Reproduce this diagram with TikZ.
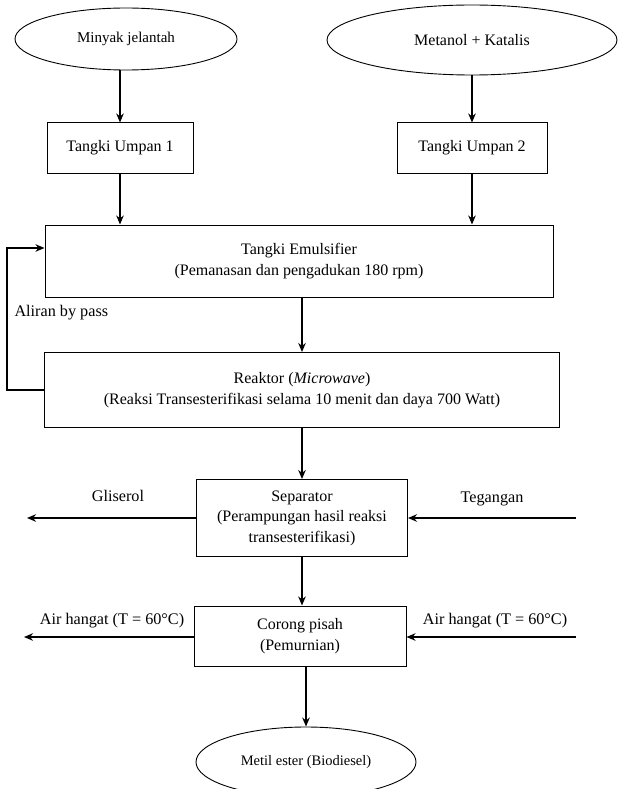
\documentclass[tikz,border=0pt]{standalone}
\usepackage{fontspec}
\setmainfont{Liberation Serif}
\usetikzlibrary{positioning, arrows.meta, calc, shapes.geometric}

\begin{document}
\begin{tikzpicture}[x=1pt, y=-1pt,
    box/.style={draw, line width=1pt, align=center, inner sep=0pt, font=\fontsize{16}{20.5}\selectfont},
    oval/.style={ellipse, draw, line width=0.9pt, inner sep=0pt, font=\fontsize{15}{17}\selectfont},
    flow/.style={line width=2pt, -{Stealth[length=9pt, width=7.5pt]}},
    lbl/.style={font=\fontsize{16.2}{18}\selectfont}]
    \useasboundingbox (0,0) rectangle (619,789);

    % Raw materials
    \node[oval, minimum width=222, minimum height=62] (oil) at (126,39) {Minyak jelantah};
    \node[oval, minimum width=290, minimum height=70, font=\fontsize{16}{17}\selectfont] (methanol) at (472,40) {Metanol + Katalis};

    % Feed tanks
    \node[box, minimum width=146, minimum height=50] (feed1) at (120,148) {Tangki Umpan 1};
    \node[box, minimum width=150, minimum height=50] (feed2) at (472,148) {Tangki Umpan 2};

    % Emulsifier and reactor
    \node[box, minimum width=508, minimum height=72] (emul) at (299,261) {Tangki Emulsifier\\(Pemanasan dan pengadukan 180 rpm)};
    \node[box, minimum width=515, minimum height=75] (reactor) at (302,390) {Reaktor (\textit{Microwave})\\(Reaksi Transesterifikasi selama 10 menit dan daya 700 Watt)};

    % Separation
    \node[box, minimum width=211, minimum height=77] (sep) at (302,518) {Separator\\(Perampungan hasil reaksi\\transesterifikasi)};
    \node[box, minimum width=212, minimum height=60] (funnel) at (300,636) {Corong pisah\\(Pemurnian)};

    % Product
    \node[oval, minimum width=220, minimum height=70, font=\fontsize{14.5}{17}\selectfont] (ester) at (306,762) {Metil ester (Biodiesel)};

    % Main flow
    \draw[flow] (oil.south -| feed1) -- (feed1);
    \draw[flow] (methanol.south -| feed2) -- (feed2);
    \draw[flow] (feed1) -- (feed1 |- emul.north);
    \draw[flow] (feed2) -- (feed2 |- emul.north);
    \draw[flow] (emul.south -| reactor) -- (reactor);
    \draw[flow] (reactor) -- (sep);
    \draw[flow] (sep) -- (sep |- funnel.north);
    \draw[flow] (funnel.south -| ester) -- (ester);

    % By pass line
    \coordinate (bypass) at (7,248);
    \draw[flow] (reactor.west) -- (reactor.west -| bypass) -- (bypass) -- (bypass -| emul.west);
    \node[lbl, anchor=west] (bylbl) at (11,313) {Aliran by pass};

    % Side streams of the separator
    \coordinate (glyout) at (27,518);
    \coordinate (voltin) at (576,518);
    \draw[flow] (sep.west) -- (glyout);
    \draw[flow] (voltin) -- (sep.east);
    \node[lbl] (glylbl) at (118,496) {Gliserol};
    \node[lbl] (voltlbl) at (492,499) {Tegangan};

    % Side streams of the funnel
    \coordinate (waterout) at (24,637);
    \coordinate (waterin) at (576,637);
    \draw[flow] (funnel.west |- waterout) -- (waterout);
    \draw[flow] (waterin) -- (waterin -| funnel.east);
    \node[lbl] (wolbl) at (112,621) {Air hangat (T = 60°C)};
    \node[lbl] (wilbl) at (495,621) {Air hangat (T = 60°C)};
\end{tikzpicture}
\end{document}
